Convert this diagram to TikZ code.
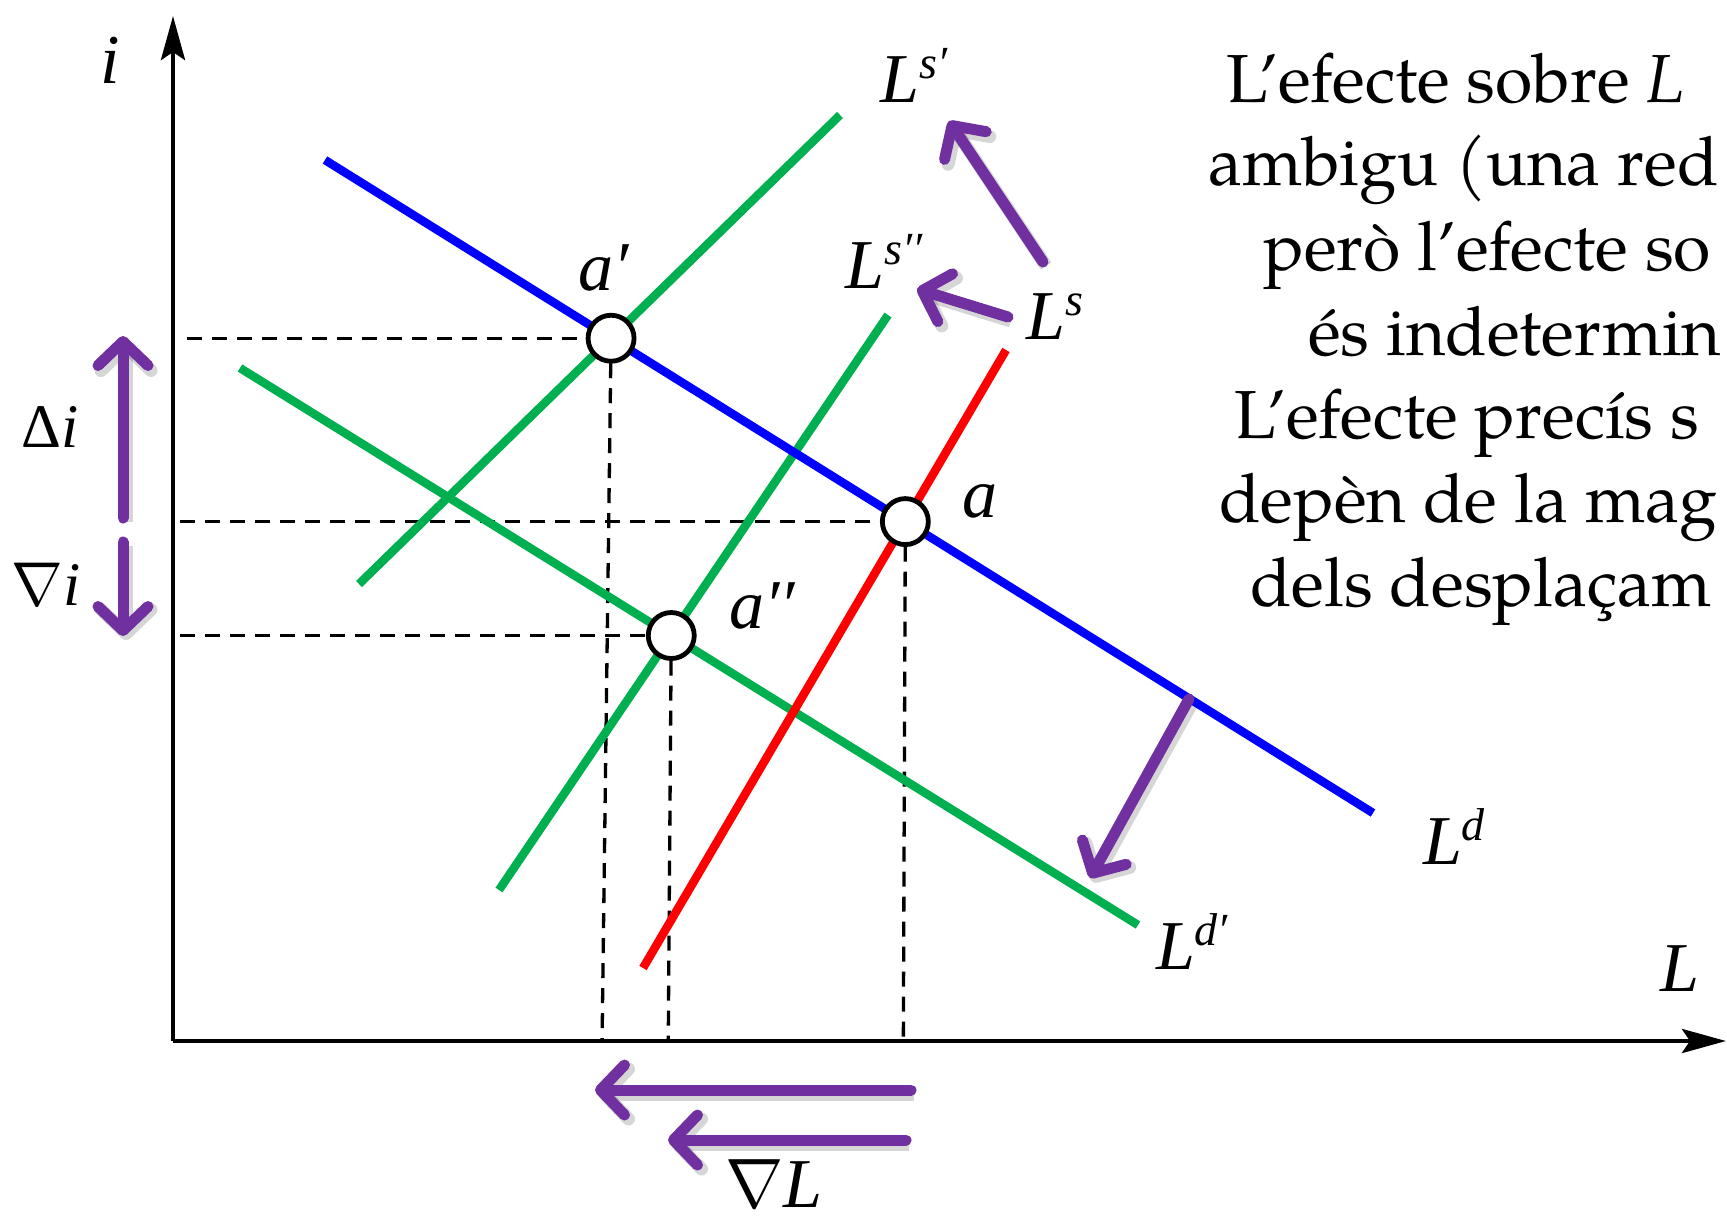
\RequirePackage{fix-cm}
\documentclass[tikz,border=0pt]{standalone}
\usepackage{fontspec}
\setmainfont{TeX Gyre Pagella}
\newfontfamily\txtfont{TeX Gyre Pagella}
\newfontfamily\tms{Liberation Serif}
\usetikzlibrary{arrows.meta,calc}
\definecolor{mblue}{RGB}{0,0,255}
\definecolor{mgreen}{RGB}{0,176,80}
\definecolor{mred}{RGB}{255,0,0}
\definecolor{mpurple}{RGB}{112,48,160}
\begin{document}
\begin{tikzpicture}[x=1pt,y=-1pt,
  curve/.style={line width=8.5pt},
  axisline/.style={line width=4.5pt,-{Stealth[length=44pt,width=24pt,inset=8pt]}},
  guide/.style={line width=3.3pt,dash pattern=on 15pt off 10pt},
  eqpt/.style={circle,draw=black,fill=white,line width=4.8pt,minimum size=46pt,inner sep=0pt},
  shiftarrow/.style={draw=mpurple,line width=11pt,line cap=round,
    -{Straight Barb[length=24pt,width=50pt,round]},
    preaction={draw=black,opacity=0.16,line width=13pt,transform canvas={shift={(3,4)}}}},
  lab/.style={font=\tms\itshape\fontsize{70}{84}\selectfont,inner sep=0pt},
  sublab/.style={font=\tms\fontsize{62}{74}\selectfont,inner sep=0pt},
  txt/.style={font=\txtfont\fontsize{68}{80}\selectfont,anchor=base west,inner sep=0pt}]
\useasboundingbox (0,0) rectangle (1727,1227);

% axes
\coordinate (O) at (173,1041);
\coordinate (Ytop) at (173,16);
\coordinate (Xend) at (1726,1041);
\draw[axisline] (O) -- (Ytop);
\draw[axisline] (O) -- (Xend);

% curve end points
\coordinate (Ld1) at (325,160);   \coordinate (Ld2) at (1373,813);
\coordinate (Lsp1) at (359,584);  \coordinate (Lsp2) at (840,115);
\coordinate (Lspp1) at (499,890); \coordinate (Lspp2) at (888,315);
\coordinate (Ls1) at (643,968);   \coordinate (Ls2) at (1006,350);
\coordinate (Ldp1) at (240,368);  \coordinate (Ldp2) at (1138,925);

\coordinate (a) at (intersection of Ld1--Ld2 and Ls1--Ls2);
\coordinate (ap) at (intersection of Ld1--Ld2 and Lsp1--Lsp2);
\coordinate (app) at (intersection of Ldp1--Ldp2 and Lspp1--Lspp2);

% dashed guides
\coordinate (G1) at (187,0);
\coordinate (G2) at (180,0);
\coordinate (apB) at ($(ap |- O)+(-9,0)$);
\coordinate (appB) at ($(app |- O)+(-3,0)$);
\coordinate (aB) at ($(a |- O)+(-2,0)$);
\draw[guide] (G1 |- ap) -- (ap);
\draw[guide] (G2 |- a) -- (a);
\draw[guide] (G2 |- app) -- (app);
\draw[guide] (ap) -- (apB);
\draw[guide] (app) -- (appB);
\draw[guide] (a) -- (aB);

% curves
\draw[curve,mgreen] (Lsp1) -- (Lsp2);
\draw[curve,mgreen] (Lspp1) -- (Lspp2);
\draw[curve,mgreen] (Ldp1) -- (Ldp2);
\draw[curve,mred] (Ls1) -- (Ls2);
\draw[curve,mblue] (Ld1) -- (Ld2);

% equilibrium points
\node[eqpt] (na) at (a) {};
\node[eqpt] (nap) at (ap) {};
\node[eqpt] (napp) at (app) {};

% purple shift arrows
\coordinate (di1) at (123,518);  \coordinate (di2) at (123,336);
\coordinate (ni1) at (123,542);  \coordinate (ni2) at (123,636);
\coordinate (s1a) at (1043,262); \coordinate (s1b) at (949,121);
\coordinate (s2a) at (1008,317); \coordinate (s2b) at (917,289);
\coordinate (d1a) at (1189,699); \coordinate (d1b) at (1090,878);
\coordinate (b1a) at (911,1090); \coordinate (b1b) at (595,1090);
\coordinate (b2a) at (906,1140); \coordinate (b2b) at (668,1140);
\draw[shiftarrow] (di1) -- (di2);
\draw[shiftarrow] (ni1) -- (ni2);
\draw[shiftarrow] (s1a) -- (s1b);
\draw[shiftarrow] (s2a) -- (s2b);
\draw[shiftarrow] (d1a) -- (d1b);
\draw[shiftarrow] (b1a) -- (b1b);
\draw[shiftarrow] (b2a) -- (b2b);

% labels
\node[lab] (li) at (110,60) {i};
\node[lab] (lL) at (1680,969) {L};
\node[sublab] (ldi) at (50,427) {Δ\itshape i};
\node[sublab] (lni) at (46,584) {$\nabla$\itshape i};
\node[lab,anchor=base] (lnL) at (774,1207) {\upshape$\nabla$\itshape L};
\node[lab] (lap) at (604,268) {a′};
\node[lab] (la) at (980,501) {a};
\node[lab] (lapp) at (762,606) {a′′};
\node[lab] (lLsp) at (914,75) {L\raisebox{24pt}{\fontsize{46}{46}\selectfont s′}};
\node[lab] (lLspp) at (884,261) {L\raisebox{24pt}{\fontsize{46}{46}\selectfont s′′}};
\node[lab] (lLs) at (1055,317) {L\raisebox{24pt}{\fontsize{46}{46}\selectfont s}};
\node[lab] (lLd) at (1454,837) {L\raisebox{24pt}{\fontsize{46}{46}\selectfont d}};
\node[lab] (lLdp) at (1192,942) {L\raisebox{24pt}{\fontsize{46}{46}\selectfont d′}};

% explanatory text
\node[txt] (t1) at (1226,102) {L’efecte sobre \textit{L}};
\node[txt] (t2) at (1208,185) {ambigu (una red};
\node[txt] (t3) at (1263,270) {però l’efecte so};
\node[txt] (t4) at (1308,355) {és indetermin};
\node[txt] (t5) at (1234,438) {L’efecte precís s};
\node[txt] (t6) at (1219,522) {depèn de la mag};
\node[txt] (t7) at (1250,606) {dels desplaçam};
\end{tikzpicture}
\end{document}
